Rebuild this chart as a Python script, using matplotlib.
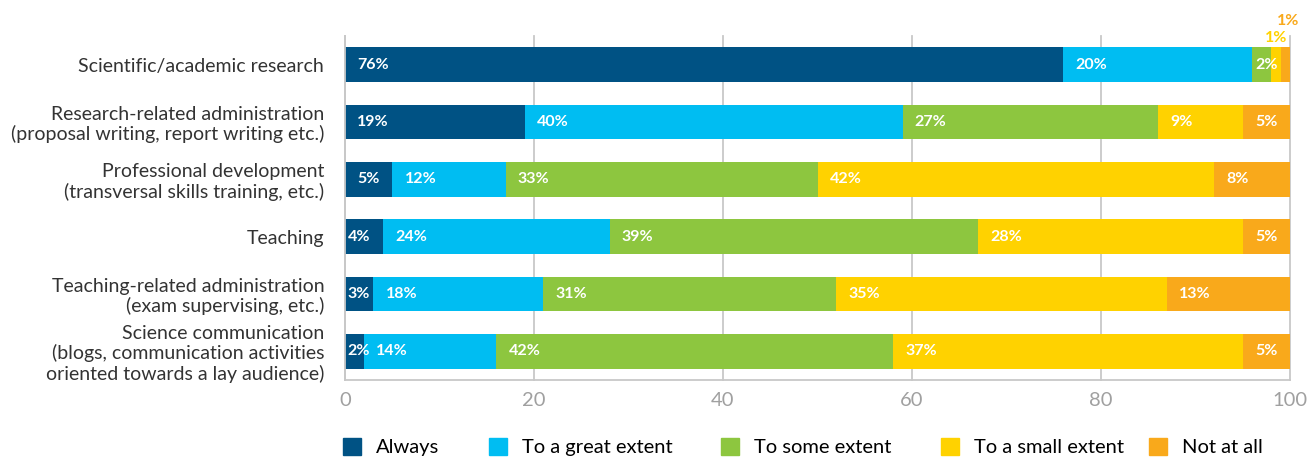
import matplotlib.pyplot as plt
from matplotlib.patches import Patch

categories = [
    "Scientific/academic research",
    "Research-related administration\n(proposal writing, report writing etc.)",
    "Professional development\n(transversal skills training, etc.)",
    "Teaching",
    "Teaching-related administration\n(exam supervising, etc.)",
    "Science communication\n(blogs, communication activities\noriented towards a lay audience)",
]
series = ["Always", "To a great extent", "To some extent", "To a small extent", "Not at all"]
always = [76, 19, 5, 4, 3, 2]
great = [20, 40, 12, 24, 18, 14]
some = [2, 27, 33, 39, 31, 42]
small = [1, 9, 42, 28, 35, 37]
not_at_all = [1, 5, 8, 5, 13, 5]
xticks = [0, 20, 40, 60, 80, 100]

colors = ["#005284", "#00bdf2", "#8dc63f", "#ffd200", "#f9a91b"]
plt.rcParams["font.family"] = ["Lato", "DejaVu Sans"]

fig = plt.figure(figsize=(13.12, 4.59), dpi=100)
ax = fig.add_axes([345 / 1312, 79 / 459, 945 / 1312, 344 / 459])

values = [always, great, some, small, not_at_all]
y = list(range(len(categories)))
left = [0] * len(categories)
for vals, col in zip(values, colors):
    ax.barh(y, vals, left=left, height=0.61, color=col, zorder=2)
    for i, v in enumerate(vals):
        if v >= 5:
            ax.text(left[i] + 1.3, i, f"{v}%", color="white", fontsize=11.5,
                    fontweight="bold", va="center", ha="left", zorder=3)
        elif v >= 2:
            ax.text(left[i] + 0.3, i, f"{v}%", color="white", fontsize=11.5,
                    fontweight="bold", va="center", ha="left", zorder=3)
        left[i] += v

# tiny segments on the first row get labels above the bar
lo = always[0] + great[0] + some[0]
ax.text(lo + small[0] / 2, -0.34, f"{small[0]}%", color=colors[3], fontsize=11.5,
        fontweight="bold", ha="center", va="bottom", clip_on=False)
ax.text(lo + small[0] + not_at_all[0] / 2 + 0.3, -0.64, f"{not_at_all[0]}%",
        color=colors[4], fontsize=11.5, fontweight="bold", ha="center", va="bottom",
        clip_on=False)

ax.set_xlim(0, 100)
ax.set_ylim(len(categories) - 0.5, -0.5)
ax.set_xticks(xticks)
ax.set_yticks(y)
ax.set_yticklabels(categories, fontsize=14, color="#333333", linespacing=1.15)
ax.tick_params(axis="x", labelsize=14.5, length=0, pad=9)
ax.tick_params(axis="y", length=0, pad=15)
for lab in ax.get_xticklabels():
    lab.set_color("#a0a0a0")

ax.grid(axis="x", color="#c8c8c8", linewidth=1.3, zorder=0, clip_on=False)
for side in ["top", "right"]:
    ax.spines[side].set_visible(False)
for side in ["left", "bottom"]:
    ax.spines[side].set_color("#c8c8c8")
    ax.spines[side].set_linewidth(1.3)

legend_x = [343, 489, 721, 941, 1149]
for name, col, lx in zip(series, colors, legend_x):
    fig.legend(handles=[Patch(color=col, label=name)], loc="center left",
               bbox_to_anchor=(lx / 1312, 12 / 459), frameon=False, fontsize=14.5,
               handlelength=0.9, handleheight=0.9, handletextpad=0.75, borderpad=0,
               borderaxespad=0)

fig.savefig("out.png", dpi=100)
